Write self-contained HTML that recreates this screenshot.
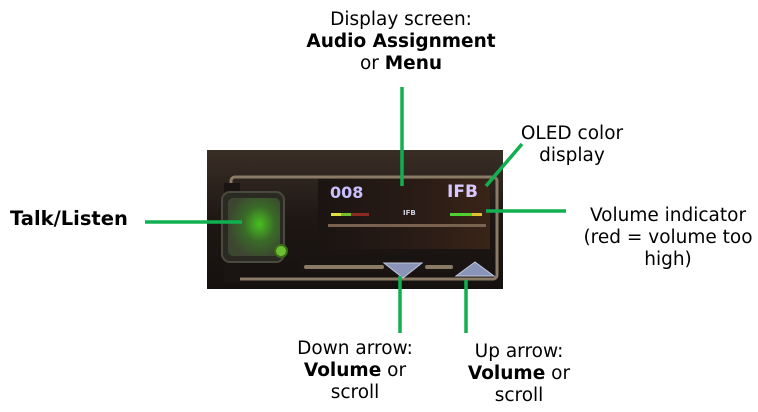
<!DOCTYPE html>
<html><head><meta charset="utf-8"><style>
html,body{margin:0;padding:0;background:#fff;width:758px;height:412px;overflow:hidden}
svg{display:block}
text{font-family:"DejaVu Sans","Liberation Sans",sans-serif;font-size:18.5px;fill:#000}
.b{font-weight:bold}
</style></head><body>
<svg width="758" height="412" viewBox="0 0 758 412" xmlns="http://www.w3.org/2000/svg">
<defs>
<linearGradient id="bg" x1="0" y1="0" x2="0" y2="1">
<stop offset="0" stop-color="#3a2e26"/><stop offset="0.5" stop-color="#1e1714"/><stop offset="1" stop-color="#15110f"/>
</linearGradient>
<radialGradient id="btn" cx="0.6" cy="0.45" r="0.6">
<stop offset="0" stop-color="#48c020"/><stop offset="0.5" stop-color="#3a6a28"/><stop offset="1" stop-color="#3c4630"/>
</radialGradient>
<linearGradient id="scr" x1="0" y1="0" x2="1" y2="0">
<stop offset="0" stop-color="#1a1412"/><stop offset="0.6" stop-color="#2a1c16"/><stop offset="1" stop-color="#3a2418"/>
</linearGradient>
</defs>
<rect x="207" y="150" width="296" height="139" fill="url(#bg)"/>
<rect x="231" y="177" width="266" height="102" rx="4" fill="none" stroke="#8a7b66" stroke-width="3"/>
<rect x="224" y="183" width="16" height="100" fill="#1a1512"/>
<rect x="318" y="179" width="172" height="70" fill="url(#scr)"/>
<rect x="328" y="224" width="158" height="3" fill="#7a6250"/>
<rect x="300" y="260" width="190" height="12" fill="#1a1512"/>
<rect x="304" y="265" width="80" height="4" rx="2" fill="#8a7b66"/>
<rect x="425" y="265" width="28" height="4" rx="2" fill="#8a7b66"/>
<rect x="222" y="192" width="62" height="70" rx="8" fill="#2b2a22" stroke="#4a4a3e" stroke-width="2"/>
<rect x="228" y="198" width="52" height="58" rx="5" fill="url(#btn)"/>
<circle cx="281" cy="251" r="6" fill="#6ac030" stroke="#3a6a18" stroke-width="2"/>
<text x="330" y="198" style="font-size:16px;font-weight:bold;fill:#c9c0ff">008</text>
<text x="447" y="197" style="font-size:17px;font-weight:bold;fill:#d8c8ff">IFB</text>
<text x="403" y="215" style="font-size:7px;font-weight:bold;fill:#d0d0e0">IFB</text>
<rect x="331" y="213" width="10" height="3" fill="#e0e040"/>
<rect x="341" y="213" width="10" height="3" fill="#70c030"/>
<rect x="351" y="213" width="18" height="3" fill="#8a2a20"/>
<rect x="450" y="213" width="22" height="3" fill="#50d030"/>
<rect x="472" y="213" width="10" height="3" fill="#e0c030"/>
<polygon points="384,263 422,263 403,278" fill="#8a94b8" stroke="#c0c8e0" stroke-width="1"/>
<polygon points="456,276 494,276 475,262" fill="#8a94b8" stroke="#c0c8e0" stroke-width="1"/>
<g stroke="#10b050" stroke-width="3.5" fill="none">
<line x1="145" y1="222" x2="242" y2="222"/>
<line x1="402" y1="87" x2="402" y2="186"/>
<line x1="522" y1="144" x2="486" y2="186"/>
<line x1="486" y1="211" x2="566" y2="211"/>
<line x1="400" y1="276" x2="400" y2="333"/>
<line x1="466" y1="280" x2="466" y2="333"/>
</g>
<text x="401" y="25" text-anchor="middle">Display screen:</text>
<text x="401" y="47" text-anchor="middle" class="b">Audio Assignment</text>
<text x="401" y="69" text-anchor="middle">or <tspan class="b">Menu</tspan></text>
<text x="572" y="139" text-anchor="middle">OLED color</text>
<text x="572" y="161" text-anchor="middle">display</text>
<text x="10" y="225" class="b" style="font-size:19.5px">Talk/Listen</text>
<text x="668" y="221" text-anchor="middle">Volume indicator</text>
<text x="668" y="243" text-anchor="middle">(red = volume too</text>
<text x="668" y="265" text-anchor="middle">high)</text>
<text x="355" y="354" text-anchor="middle">Down arrow:</text>
<text x="355" y="376" text-anchor="middle"><tspan class="b">Volume</tspan> or</text>
<text x="355" y="398" text-anchor="middle">scroll</text>
<text x="519" y="357" text-anchor="middle">Up arrow:</text>
<text x="519" y="379" text-anchor="middle"><tspan class="b">Volume</tspan> or</text>
<text x="519" y="401" text-anchor="middle">scroll</text>
</svg>
</body></html>
